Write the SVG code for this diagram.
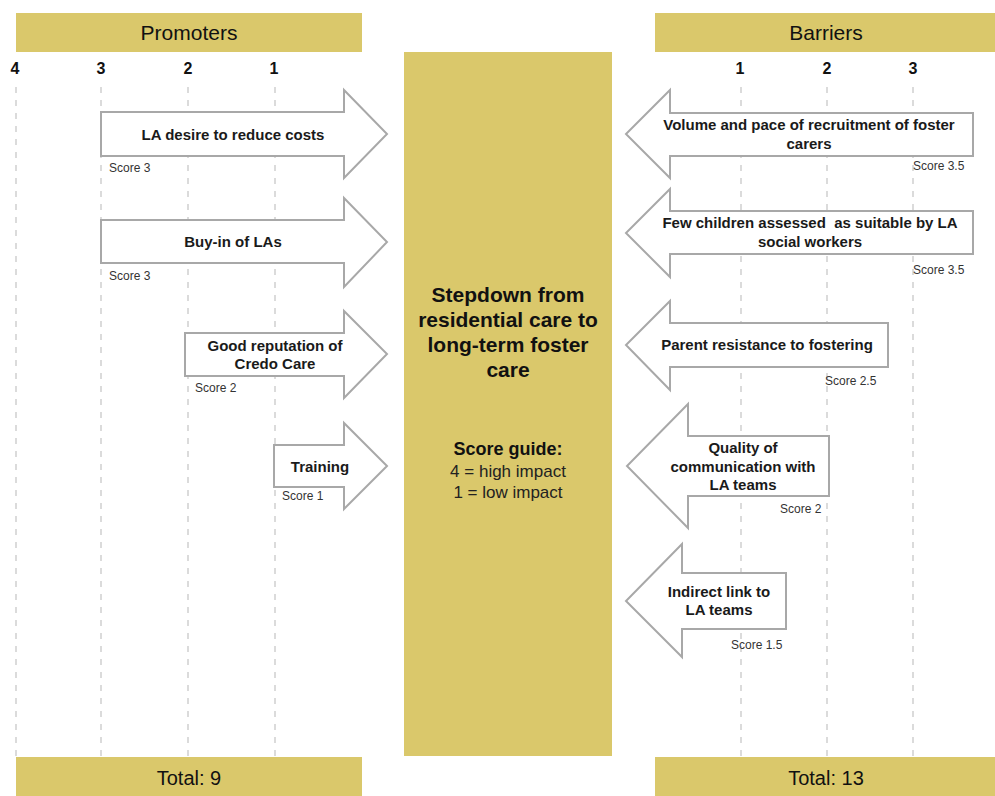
<svg xmlns="http://www.w3.org/2000/svg" width="995" height="796" viewBox="0 0 995 796">
<style>
.band{fill:#DAC86B}
.hdr{font-family:"Liberation Sans",Arial,sans-serif;font-size:21px;fill:#111;text-anchor:middle}
.tick{font-family:"Liberation Sans",Arial,sans-serif;font-size:16px;font-weight:bold;fill:#111;text-anchor:middle}
.grid{stroke:#c4c4c4;stroke-width:1.2;stroke-dasharray:6 7;fill:none}
.arr{fill:#fff;stroke:#a8a8a8;stroke-width:2}
.lbl{font-family:"Liberation Sans",Arial,sans-serif;font-size:15px;font-weight:bold;fill:#1a1a1a;text-anchor:middle}
.sc{font-family:"Liberation Sans",Arial,sans-serif;font-size:12px;fill:#333}
.ttl{font-family:"Liberation Sans",Arial,sans-serif;font-size:21px;font-weight:bold;fill:#111;text-anchor:middle}
.gd{font-family:"Liberation Sans",Arial,sans-serif;font-size:17px;fill:#222;text-anchor:middle}
</style>
<rect width="995" height="796" fill="#fff"/>
<g id="scale">
<line class="grid" x1="16" y1="87" x2="16" y2="757"/>
<line class="grid" x1="101" y1="87" x2="101" y2="757"/>
<line class="grid" x1="188" y1="87" x2="188" y2="757"/>
<line class="grid" x1="275" y1="87" x2="275" y2="757"/>
<line class="grid" x1="741" y1="87" x2="741" y2="757"/>
<line class="grid" x1="827" y1="87" x2="827" y2="757"/>
<line class="grid" x1="913" y1="87" x2="913" y2="757"/>
<text class="tick" x="15" y="74">4</text>
<text class="tick" x="101" y="74">3</text>
<text class="tick" x="188" y="74">2</text>
<text class="tick" x="274" y="74">1</text>
<text class="tick" x="740" y="74">1</text>
<text class="tick" x="827" y="74">2</text>
<text class="tick" x="913" y="74">3</text>
</g>
<g id="promoters-header">
<rect class="band" x="16" y="13" width="346" height="39"/>
<text class="hdr" x="189" y="40">Promoters</text>
</g>
<g id="barriers-header">
<rect class="band" x="655" y="13" width="340" height="39"/>
<text class="hdr" x="826" y="40">Barriers</text>
</g>
<g id="center">
<rect class="band" x="404" y="52" width="208" height="704"/>
<text class="ttl" x="508" y="302">Stepdown from</text>
<text class="ttl" x="508" y="327">residential care to</text>
<text class="ttl" x="508" y="352">long-term foster</text>
<text class="ttl" x="508" y="377">care</text>
<text class="gd" x="508" y="455" font-weight="bold" style="font-size:18px;fill:#111">Score guide:</text>
<text class="gd" x="508" y="477">4 = high impact</text>
<text class="gd" x="508" y="498">1 = low impact</text>
</g>
<g id="promoters-total">
<rect class="band" x="16" y="757" width="346" height="39"/>
<text class="hdr" x="189" y="785" style="font-size:20px">Total: 9</text>
</g>
<g id="barriers-total">
<rect class="band" x="655" y="757" width="340" height="39"/>
<text class="hdr" x="826" y="785" style="font-size:20px">Total: 13</text>
</g>
<g id="connectors"></g>
<g id="p1">
<path class="arr" d="M101,112 H344 V90 L387,134 L344,178 V156 H101 Z"/>
<text class="lbl" x="233" y="140">LA desire to reduce costs</text>
<text class="sc" x="109" y="172">Score 3</text>
</g>
<g id="p2">
<path class="arr" d="M101,220 H344 V198 L387,242 L344,287 V263 H101 Z"/>
<text class="lbl" x="233" y="247">Buy-in of LAs</text>
<text class="sc" x="109" y="280">Score 3</text>
</g>
<g id="p3">
<path class="arr" d="M185,333 H344 V311 L387,354 L344,398 V376 H185 Z"/>
<text class="lbl" x="275" y="351">Good reputation of</text>
<text class="lbl" x="275" y="369">Credo Care</text>
<text class="sc" x="195" y="392">Score 2</text>
</g>
<g id="p4">
<path class="arr" d="M274,445 H344 V423 L387,466 L344,509 V487 H274 Z"/>
<text class="lbl" x="320" y="472">Training</text>
<text class="sc" x="282" y="500">Score 1</text>
</g>
<g id="b1">
<path class="arr" d="M973,113 H670 V90 L626,134 L670,178 V156 H973 Z"/>
<text class="lbl" x="809" y="130">Volume and pace of recruitment of foster</text>
<text class="lbl" x="809" y="149">carers</text>
<text class="sc" x="913" y="170">Score 3.5</text>
</g>
<g id="b2">
<path class="arr" d="M973,211 H670 V189 L626,233 L670,277 V254 H973 Z"/>
<text class="lbl" x="810" y="228" style="white-space:pre">Few children assessed  as suitable by LA</text>
<text class="lbl" x="810" y="247">social workers</text>
<text class="sc" x="913" y="274">Score 3.5</text>
</g>
<g id="b3">
<path class="arr" d="M888,323 H670 V301 L626,345 L670,390 V367 H888 Z"/>
<text class="lbl" x="767" y="350">Parent resistance to fostering</text>
<text class="sc" x="825" y="385">Score 2.5</text>
</g>
<g id="b4">
<path class="arr" d="M829,436 H688 V404 L627,466 L688,528 V496 H829 Z"/>
<text class="lbl" x="743" y="453">Quality of</text>
<text class="lbl" x="743" y="472">communication with</text>
<text class="lbl" x="743" y="490">LA teams</text>
<text class="sc" x="780" y="513">Score 2</text>
</g>
<g id="b5">
<path class="arr" d="M786,573 H682 V544 L626,601 L682,657 V629 H786 Z"/>
<text class="lbl" x="719" y="597">Indirect link to</text>
<text class="lbl" x="719" y="615">LA teams</text>
<text class="sc" x="731" y="649">Score 1.5</text>
</g>
</svg>
